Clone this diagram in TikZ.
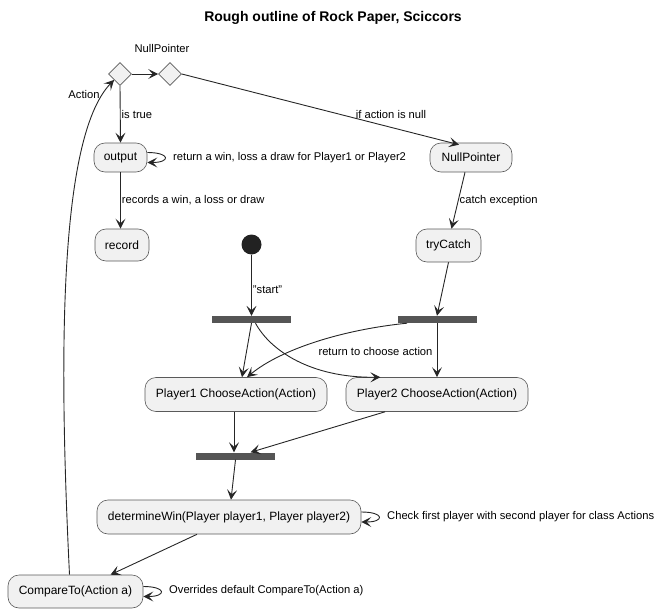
\documentclass[tikz,border=0pt]{standalone}
\usepackage{fontspec}
\setmainfont{Liberation Sans}
\usetikzlibrary{arrows.meta,shapes.geometric}

\definecolor{actfill}{HTML}{F1F1F1}
\definecolor{actline}{HTML}{5A5A5A}
\definecolor{barcol}{HTML}{555555}
\definecolor{startcol}{HTML}{222222}

\tikzset{
  act/.style={draw=actline, fill=actfill, rounded corners=11pt, inner sep=0pt,
    line width=0.6pt, font=\fontsize{12}{14}\selectfont},
  bar/.style={fill=barcol, minimum width=79pt, minimum height=7pt, inner sep=0pt},
  dec/.style={diamond, draw=actline, fill=actfill, minimum width=23pt,
    minimum height=23pt, inner sep=0pt, line width=0.6pt},
  lbl/.style={font=\fontsize{11.2}{13}\selectfont, inner sep=1pt},
  flow/.style={draw=black!85, line width=0.9pt,
    -{Stealth[length=10pt,width=10pt,inset=4.5pt]}},
}

\begin{document}
\begin{tikzpicture}[x=1pt,y=-1pt]

    \useasboundingbox (0,0) rectangle (667,613);

    % Title
    \node[font=\fontsize{14}{16}\selectfont\bfseries] (title) at (333,18)
        {Rough outline of Rock Paper, Sciccors};

    % Decisions
    \node[dec] (decA) at (120,74) {};
    \node[dec] (decB) at (170,74) {};
    \node[lbl] (nplbl) at (162,48) {NullPointer};

    % Activities
    \node[act, minimum width=53pt, minimum height=29pt] (output) at (120.5,157.5) {output};
    \node[act, minimum width=54pt, minimum height=32pt] (record) at (122,245) {record};
    \node[act, minimum width=82pt, minimum height=29pt] (nullptr) at (471,157.5) {NullPointer};
    \node[act, minimum width=65pt, minimum height=33pt] (trycatch) at (448.5,245.5) {tryCatch};
    \node[act, minimum width=182pt, minimum height=34pt] (pone) at (236,394.5) {Player1 ChooseAction(Action)};
    \node[act, minimum width=182pt, minimum height=34pt] (ptwo) at (437,394.5) {Player2 ChooseAction(Action)};
    \node[act, minimum width=264pt, minimum height=34pt] (determine) at (229,517) {determineWin(Player player1, Player player2)};
    \node[act, minimum width=135pt, minimum height=33pt] (compare) at (75.5,591.5) {CompareTo(Action a)};

    % Start and bars
    \node[circle, fill=startcol, minimum size=20pt, inner sep=0pt] (start) at (251.5,244.5) {};
    \node[bar] (forkA) at (251.5,319.5) {};
    \node[bar] (forkB) at (437,319.5) {};
    \node[bar] (joinbar) at (235.5,456) {};

    % Connectors
    \draw[flow] (decA) -- (decB);
    \draw[flow] (decA.south) -- (output.north) node[lbl, midway, anchor=west] {is true};
    \draw[flow] (decB.east) -- ([xshift=-12pt,yshift=-2pt]nullptr.north);
    \node[lbl] (ifnull) at (391,114) {if action is null};
    \draw[flow] (output.south) -- (output.south |- record.north)
        node[lbl, midway, anchor=west] {records a win, a loss or draw};
    \draw[flow] ([xshift=-6pt]nullptr.south) -- ([xshift=3pt]trycatch.north)
        node[lbl, midway, anchor=west] {catch exception};
    \draw[flow] (trycatch.south) -- (forkB.north);
    \draw[flow] (start) -- (forkA.north) node[lbl, pos=0.57, anchor=west] {"start"};
    \draw[flow] (forkA.south) -- ([xshift=6pt]pone.north);
    \draw[flow] ([xshift=4pt]forkA.south) .. controls (270,350) and (310,378) .. (ptwo.163);
    \draw[flow] ([xshift=-30pt]forkB.south) .. controls (340,330) and (280,350) .. ([xshift=11pt]pone.north);
    \node[lbl] (retlbl) at (375.5,351) {return to choose action};
    \draw[flow] (forkB.south) -- (ptwo.north);
    \draw[flow] ([xshift=-2pt]pone.south) -- ([xshift=-1.5pt]joinbar.north);
    \draw[flow] ([xshift=-52pt]ptwo.south) -- ([xshift=15pt]joinbar.north);
    \draw[flow] (joinbar.south) -- ([xshift=2pt]determine.north);
    \draw[flow] ([xshift=-32pt]determine.south) -- ([xshift=35pt]compare.north);
    \draw[flow] ([xshift=-6pt]compare.north) .. controls (60,380) and (56,140) .. (decA.south west);
    \node[lbl] (actlbl) at (84,94) {Action};

    % Self loops
    \draw[flow] ([yshift=5pt]output.east) to[out=0,in=0,looseness=6] ([yshift=-5pt]output.east);
    \node[lbl, anchor=west] (outlbl) at (172,158) {return a win, loss a draw for Player1 or Player2};
    \draw[flow] ([yshift=5pt]determine.east) to[out=0,in=0,looseness=6] ([yshift=-5pt]determine.east);
    \node[lbl, anchor=west] (detlbl) at (386,517) {Check first player with second player for class Actions};
    \draw[flow] ([yshift=5pt]compare.east) to[out=0,in=0,looseness=6] ([yshift=-5pt]compare.east);
    \node[lbl, anchor=west] (cmplbl) at (168,591) {Overrides default CompareTo(Action a)};

\end{tikzpicture}
\end{document}
